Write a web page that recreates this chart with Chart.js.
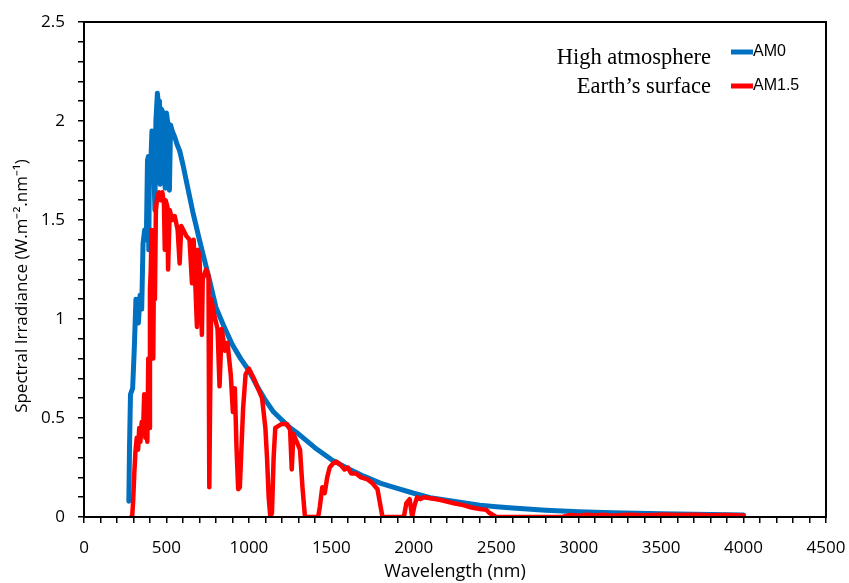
<!DOCTYPE html>
<html>
<head>
<meta charset="utf-8">
<script src="https://cdn.jsdelivr.net/npm/chart.js@4"></script>
<style>
  html, body { margin: 0; padding: 0; background: #fff; }
  #wrap { width: 849px; height: 583px; position: relative; }
</style>
</head>
<body>
<div id="wrap"><canvas id="spectrumChart"></canvas></div>
<script>
// Solar spectral irradiance
const am0Wavelength = [
  272, 276, 282, 295, 305, 315, 322, 330, 340, 350, 358, 368, 378, 385, 390, 393, 397,
  405, 412, 420, 430, 436, 445, 452, 458, 462, 470, 480, 488, 492, 500, 510, 518, 525,
  535, 550, 565, 580, 600, 620, 640, 660, 680, 700, 730, 760, 800, 850, 900, 950,
  1000, 1050, 1100, 1150, 1200, 1250, 1300, 1400, 1500, 1600, 1700, 1800, 1900,
  2000, 2100, 2200, 2300, 2400, 2500, 2600, 2800, 3000, 3200, 3500, 3800, 4000
];
const am0Irradiance = [
  0.08, 0.35, 0.62, 0.65, 0.85, 1.10, 1.05, 0.98, 1.12, 1.05, 1.38, 1.45, 1.40, 1.80, 1.82, 1.35, 1.82,
  1.78, 1.95, 1.90, 1.55, 2.00, 2.14, 2.08, 2.10, 1.68, 2.06, 2.04, 2.02, 1.66, 2.04, 1.98, 1.65, 1.98,
  1.95, 1.92, 1.88, 1.85, 1.78, 1.70, 1.62, 1.54, 1.47, 1.40, 1.30, 1.20, 1.06, 0.96, 0.87, 0.80,
  0.74, 0.66, 0.59, 0.53, 0.49, 0.45, 0.42, 0.35, 0.29, 0.245, 0.205, 0.17, 0.145,
  0.12, 0.098, 0.085, 0.072, 0.06, 0.052, 0.045, 0.034, 0.026, 0.021, 0.016, 0.012, 0.01
];

const am15Wavelength = [
  285, 292, 298, 305, 312, 320, 328, 335, 342, 350, 358, 365, 372, 378, 384, 390, 396,
  400, 405, 410, 415, 420, 425, 430, 436, 445, 455, 465, 475, 485, 490, 495, 505, 510,
  520, 535, 550, 568, 580, 590, 620, 640, 655, 665, 685, 690, 700, 715, 720, 740, 755,
  760, 765, 772, 790, 810, 822, 835, 855, 870, 890, 903, 915, 925, 935, 945, 955, 965,
  980, 1000, 1030, 1060, 1080, 1100, 1110, 1120, 1130, 1140, 1150, 1160, 1180, 1200,
  1230, 1250, 1260, 1270, 1290, 1310, 1325, 1340, 1420, 1430, 1445, 1460, 1475, 1490,
  1510, 1530, 1560, 1580, 1600, 1620, 1650, 1680, 1720, 1750, 1780, 1795, 1810, 1940,
  1955, 1975, 1990, 2005, 2020, 2040, 2060, 2100, 2150, 2200, 2250, 2300, 2350, 2400,
  2440, 2460, 2480, 2500, 2900, 2950, 3000, 3050, 3100, 3150, 3200, 3300, 3400, 3500,
  3600, 3700, 3800, 3900, 4000
];
const am15Irradiance = [
  0.0, 0.0, 0.08, 0.22, 0.33, 0.40, 0.34, 0.45, 0.38, 0.48, 0.42, 0.62, 0.40, 0.55, 0.38, 0.80, 0.45,
  1.15, 1.25, 1.45, 1.30, 0.80, 1.35, 1.10, 1.55, 1.62, 1.64, 1.60, 1.64, 1.58, 1.35, 1.60, 1.57, 1.25,
  1.55, 1.50, 1.52, 1.45, 1.28, 1.47, 1.42, 1.40, 1.18, 1.40, 0.96, 1.35, 1.32, 0.92, 1.20, 1.25, 1.22,
  0.15, 0.60, 1.10, 1.02, 0.95, 0.66, 0.95, 0.84, 0.88, 0.72, 0.53, 0.65, 0.35, 0.14, 0.15, 0.35, 0.55,
  0.72, 0.75, 0.70, 0.64, 0.60, 0.45, 0.30, 0.10, 0.0, 0.02, 0.30, 0.45, 0.46, 0.47,
  0.47, 0.44, 0.24, 0.42, 0.38, 0.34, 0.15, 0.0, 0.0, 0.05, 0.15, 0.12, 0.20, 0.25,
  0.27, 0.28, 0.26, 0.24, 0.25, 0.22, 0.22, 0.20, 0.19, 0.17, 0.14, 0.07, 0.0, 0.0,
  0.07, 0.09, 0.0, 0.06, 0.10, 0.09, 0.10, 0.095, 0.088, 0.078, 0.068, 0.06, 0.048, 0.04,
  0.036, 0.02, 0.01, 0.0, 0.0, 0.01, 0.006, 0.012, 0.008, 0.012, 0.006, 0.012, 0.009, 0.012,
  0.01, 0.011, 0.009, 0.01, 0.008
];

const seriesNames = ['AM0', 'AM1.5'];
const seriesNotes = ['High atmosphere', 'Earth\u2019s surface'];
const seriesColors = ['#0070C0', '#FF0000'];
const yTitle = 'Spectral Irradiance (W.m\u207B\u00B2.nm\u207B\u00B9)';

const xTickStep = 100, xLabelStep = 500;
const yTickStep = 0.1, yLabelStep = 0.5;

const toPoints = (xs, ys) => xs.map((x, i) => ({ x: x, y: ys[i] }));

// box around the plot area
const framePlugin = {
  id: 'frame',
  afterDraw(chart) {
    const { ctx, chartArea: a } = chart;
    ctx.save();
    ctx.strokeStyle = '#000';
    ctx.lineWidth = 2;
    ctx.strokeRect(a.left, a.top, a.right - a.left, a.bottom - a.top);
    ctx.restore();
  }
};

// y title sits a little below the middle of the axis in the original
const yTitlePlugin = {
  id: 'yTitle',
  afterDraw(chart) {
    const ctx = chart.ctx;
    ctx.save();
    ctx.translate(22, 286);
    ctx.rotate(-Math.PI / 2);
    ctx.font = '17px "Open Sans"';
    ctx.fillStyle = '#000';
    ctx.textAlign = 'center';
    ctx.textBaseline = 'middle';
    ctx.fillText(yTitle, 0, 0);
    ctx.restore();
  }
};

// legend with the description text on the left of each line sample
const notedLegend = {
  id: 'notedLegend',
  afterDraw(chart) {
    const ctx = chart.ctx;
    const rows = [{ y: 52, noteY: 58 }, { y: 86, noteY: 87 }];
    ctx.save();
    rows.forEach((r, i) => {
      ctx.textBaseline = 'middle';
      ctx.font = '22.5px "Liberation Serif"';
      ctx.fillStyle = '#000';
      ctx.textAlign = 'right';
      ctx.fillText(seriesNotes[i], 711, r.noteY);
      ctx.strokeStyle = seriesColors[i];
      ctx.lineWidth = 5;
      ctx.beginPath();
      ctx.moveTo(731, r.y);
      ctx.lineTo(753, r.y);
      ctx.stroke();
      ctx.font = '16px "Liberation Sans"';
      ctx.textAlign = 'left';
      ctx.fillText(seriesNames[i], 753, r.y);
    });
    ctx.restore();
  }
};

const ctx = document.getElementById('spectrumChart').getContext('2d');
new Chart(ctx, {
  type: 'line',
  data: {
    datasets: [
      {
        label: seriesNames[0],
        data: toPoints(am0Wavelength, am0Irradiance),
        borderColor: seriesColors[0],
        borderWidth: 5,
        borderJoinStyle: 'round',
        borderCapStyle: 'round',
        pointRadius: 0,
        tension: 0,
        order: 2
      },
      {
        label: seriesNames[1],
        data: toPoints(am15Wavelength, am15Irradiance),
        borderColor: seriesColors[1],
        borderWidth: 4.5,
        borderJoinStyle: 'round',
        borderCapStyle: 'round',
        pointRadius: 0,
        tension: 0,
        order: 1
      }
    ]
  },
  options: {
    responsive: true,
    maintainAspectRatio: false,
    animation: false,
    layout: { padding: { top: 22, right: 23, left: 0, bottom: 0 } },
    plugins: {
      legend: { display: false },
      tooltip: { enabled: false }
    },
    scales: {
      x: {
        type: 'linear',
        min: 0,
        max: 4500,
        // fixed axis band, no extra room for label overflow
        afterFit: s => { s.height = 66; s.paddingLeft = 0; s.paddingRight = 0; },
        border: { color: '#000', width: 2 },
        grid: { drawOnChartArea: false, color: '#000', lineWidth: 1.5, tickLength: 6 },
        ticks: {
          stepSize: xTickStep,
          autoSkip: false,
          maxRotation: 0,
          padding: 15,
          color: '#000',
          font: { family: 'Open Sans', size: 17 },
          callback: v => (v % xLabelStep === 0 ? String(v) : '')
        },
        title: {
          display: true,
          text: 'Wavelength (nm)',
          color: '#000',
          font: { family: 'Open Sans', size: 18 },
          padding: { top: 0, bottom: 0 }
        }
      },
      y: {
        type: 'linear',
        min: 0,
        max: 2.5,
        afterFit: s => { s.width = 84; s.paddingTop = 0; s.paddingBottom = 0; },
        border: { color: '#000', width: 2 },
        grid: { drawOnChartArea: false, color: '#000', lineWidth: 1.5, tickLength: 6 },
        ticks: {
          stepSize: yTickStep,
          autoSkip: false,
          padding: 13,
          color: '#000',
          font: { family: 'Open Sans', size: 17 },
          callback: v => {
            const n = Math.round(v / yTickStep);
            return n % Math.round(yLabelStep / yTickStep) === 0 ? String(Math.round(v * 10) / 10) : '';
          }
        },
        title: { display: false }
      }
    }
  },
  plugins: [framePlugin, yTitlePlugin, notedLegend]
});
</script>
</body>
</html>
